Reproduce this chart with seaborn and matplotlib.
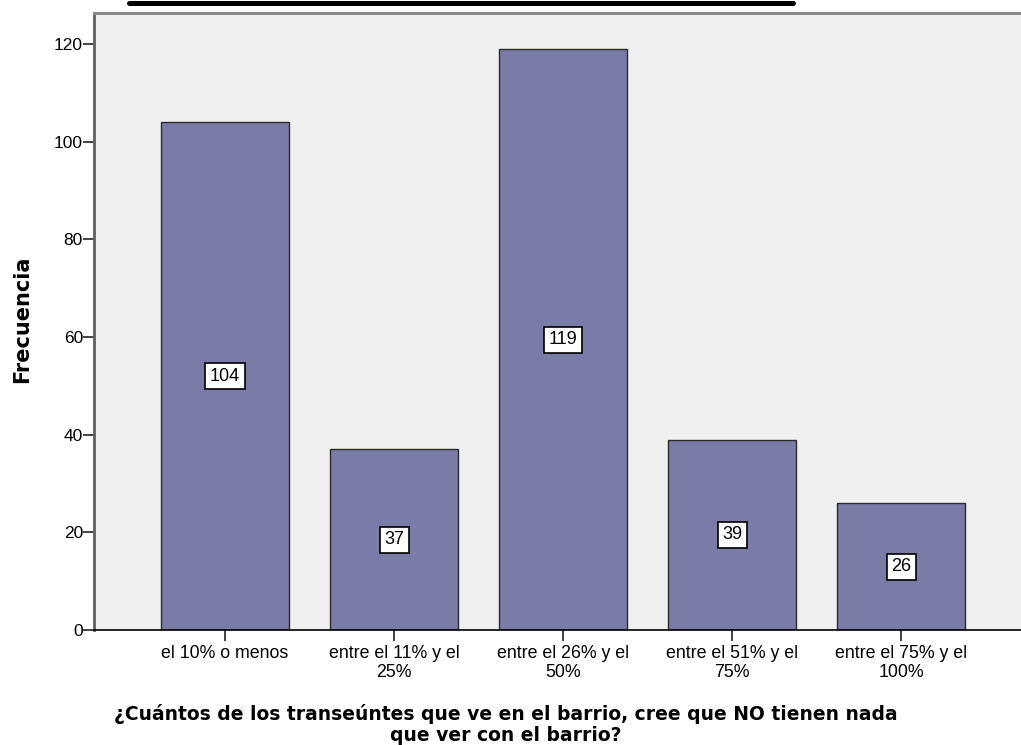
import pandas as pd
import seaborn as sns
import matplotlib.pyplot as plt
from matplotlib.lines import Line2D

# data
categorias = ["el 10% o menos", "entre el 11% y el\n25%", "entre el 26% y el\n50%",
              "entre el 51% y el\n75%", "entre el 75% y el\n100%"]
frecuencias = [104, 37, 119, 39, 26]
y_ticks = [0, 20, 40, 60, 80, 100, 120]

df = pd.DataFrame({"cat": categorias, "freq": frecuencias})

sns.set_style("white")
plt.rcParams['font.family'] = ['Liberation Sans', 'DejaVu Sans']
plt.rcParams['text.color'] = 'black'
plt.rcParams['xtick.color'] = 'black'
plt.rcParams['ytick.color'] = 'black'

fig = plt.figure(figsize=(10.21, 7.45), dpi=100)
# the plotting area runs off the right edge, as in the reference
ax = fig.add_axes([94 / 1021, 115 / 745, (1050 - 94) / 1021, 617 / 745])
ax.set_facecolor("#f0f0f0")

sns.barplot(data=df, x="cat", y="freq", color="#7b7ba8", saturation=1,
            width=0.76, edgecolor="#2b2b2b", linewidth=1.0, ax=ax)

# value labels in white boxes at half bar height
for i, v in enumerate(frecuencias):
    ax.text(i, v / 2, str(v), ha="center", va="center", fontsize=13,
            bbox=dict(boxstyle="square,pad=0.25", facecolor="white",
                      edgecolor="black", linewidth=1.2))

ax.set_xlim(-0.775, 4.88)
ax.set_ylim(0, 126.4)
ax.set_yticks(y_ticks)
ax.set_yticklabels([str(t) for t in y_ticks], fontsize=12.5)
ax.tick_params(axis="y", left=True, direction="out", length=8, width=1.3,
               color="#333333", pad=0)
ax.tick_params(axis="x", bottom=True, direction="out", length=8, width=1.3,
               color="#333333", labelsize=12.8, pad=3)
for lab in ax.get_xticklabels():
    lab.set_linespacing(1.15)

ax.spines["right"].set_visible(False)
ax.spines["left"].set_color("#606060")
ax.spines["left"].set_linewidth(2)
ax.spines["top"].set_color("#888888")
ax.spines["top"].set_linewidth(2.2)
ax.spines["bottom"].set_color("black")
ax.spines["bottom"].set_linewidth(1.2)

ax.set_xlabel("")
ax.set_ylabel("")
fig.text(22 / 1021, 1 - 319 / 745, "Frecuencia", rotation=90, ha="center",
         va="center", fontsize=15, fontweight="bold", family="DejaVu Sans")
fig.text(506 / 1021, 1 - 704 / 745,
         "¿Cuántos de los transeúntes que ve en el barrio, cree que NO tienen nada\n"
         "que ver con el barrio?", ha="center", va="top", fontsize=13.5,
         fontweight="bold", family="DejaVu Sans", linespacing=1.13)

# underline of the cut-off title at the top of the picture
fig.add_artist(Line2D([129 / 1021, 793 / 1021], [1 - 2.5 / 745, 1 - 2.5 / 745],
                      color="black", linewidth=3.6, transform=fig.transFigure))

fig.savefig("out.png", dpi=100)
